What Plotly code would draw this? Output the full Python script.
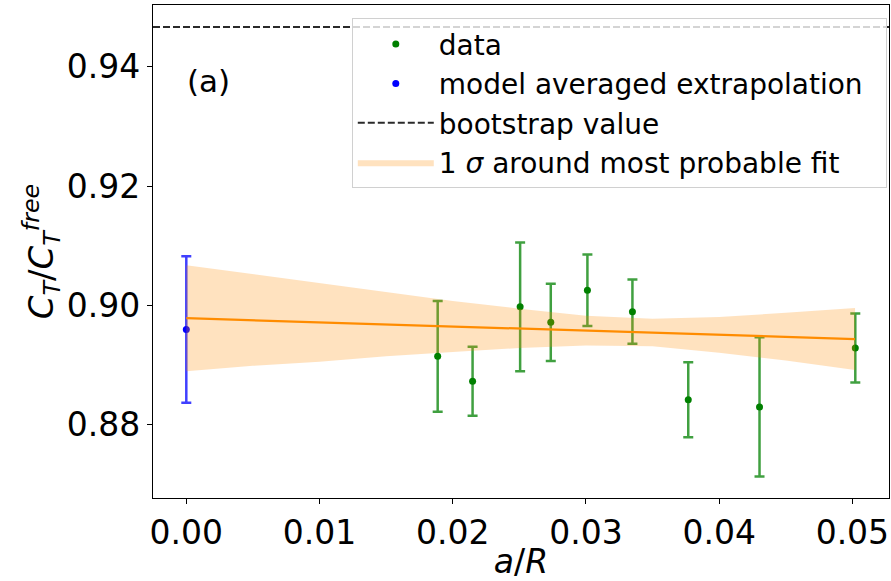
import plotly.graph_objects as go

# Lattice data: C_T / C_T^free against a/R
a_over_r = [0.01887, 0.02149, 0.02506, 0.02736, 0.03011, 0.03349, 0.03768, 0.04303, 0.05022]
ct_ratio = [0.8914, 0.8872, 0.8997, 0.8971, 0.9025, 0.8989, 0.8841, 0.8829, 0.8928]
ct_err = [0.0093, 0.0058, 0.0108, 0.0065, 0.0060, 0.0054, 0.0063, 0.0117, 0.0058]

# Continuum extrapolation (model averaged)
extrap_x = [0.0]
extrap_y = [0.8959]
extrap_err = [0.0123]

# Bootstrap reference value
bootstrap_value = 0.9467

# Most probable linear fit and its 1 sigma band
fit_x = [0.0, 0.0502]
fit_y = [0.8978, 0.8943]
band_x = [0.0, 0.005, 0.01, 0.015, 0.02, 0.025, 0.03, 0.035, 0.04, 0.045, 0.0502]
band_upper = [0.9067, 0.9052, 0.9037, 0.9022, 0.9007, 0.8994, 0.8982, 0.8977, 0.8980, 0.8987, 0.8995]
band_lower = [0.8889, 0.8898, 0.8905, 0.8914, 0.8921, 0.8928, 0.8932, 0.8931, 0.8920, 0.8907, 0.8891]

x_ticks = [0.00, 0.01, 0.02, 0.03, 0.04, 0.05]
y_ticks = [0.88, 0.90, 0.92, 0.94]

FONT = "DejaVu Sans"
GREEN = "#008000"
BLUE = "#0000ff"
ORANGE = "#ff8c00"
PAD = "&nbsp;&nbsp;"

fig = go.Figure()

fig.add_trace(go.Scatter(
    x=a_over_r, y=ct_ratio, mode="markers", name="data", legendrank=1,
    marker=dict(color=GREEN, size=7),
    error_y=dict(type="data", array=ct_err, color="rgba(0,128,0,0.75)",
                 thickness=2.5, width=5),
))

fig.add_trace(go.Scatter(
    x=extrap_x, y=extrap_y, mode="markers",
    name="model averaged extrapolation" + PAD, legendrank=2,
    marker=dict(color=BLUE, size=7),
    error_y=dict(type="data", array=extrap_err, color="rgba(0,0,255,0.75)",
                 thickness=2.5, width=5),
))

fig.add_trace(go.Scatter(
    x=band_x + band_x[::-1], y=band_upper + band_lower[::-1],
    mode="lines", fill="toself", fillcolor="rgba(255,140,0,0.25)",
    line=dict(width=0), name="1 <i>σ</i> around most probable fit", legendrank=4,
))

fig.add_trace(go.Scatter(
    x=fit_x, y=fit_y, mode="lines", showlegend=False,
    line=dict(color=ORANGE, width=2.2),
))

fig.add_shape(
    type="line", xref="x domain", yref="y", x0=0, x1=1,
    y0=bootstrap_value, y1=bootstrap_value,
    line=dict(color="#2a2a2a", width=2, dash="7px,3px"),
    showlegend=True, name="bootstrap value", legendrank=3,
)

fig.add_annotation(
    text="(a)", xref="x", yref="y", x=-0.0001, y=0.9376, showarrow=False,
    xanchor="left", yanchor="middle",
    font=dict(family=FONT, size=31, color="black"),
)

axis_common = dict(
    showline=True, linecolor="black", linewidth=1.3, mirror=True,
    ticks="outside", ticklen=5, tickwidth=1.2, tickcolor="black",
    showgrid=False, zeroline=False,
    tickfont=dict(family=FONT, size=33, color="black"),
    tickformat=".2f",
)

fig.update_xaxes(
    range=[-0.0025, 0.05275], tickvals=x_ticks, **axis_common,
    title=dict(text="<i>a</i>/<i>R</i>", font=dict(family=FONT, size=33, color="black"),
               standoff=2),
)
fig.update_yaxes(
    range=[0.8676, 0.9504], tickvals=y_ticks, **axis_common,
    title=dict(text="<i>C<sub>T</sub></i>/<i>C<sub>T</sub><sup>free</sup></i>",
               font=dict(family=FONT, size=34, color="black"), standoff=2),
)

fig.update_layout(
    width=891, height=581,
    margin=dict(l=153, r=2, t=5, b=83),
    paper_bgcolor="white", plot_bgcolor="white",
    font=dict(family=FONT, color="black"),
    legend=dict(
        x=0.997, y=0.973, xanchor="right", yanchor="top",
        bgcolor="rgba(255,255,255,0.8)", bordercolor="#d0d0d0", borderwidth=1,
        font=dict(family=FONT, size=28, color="black"),
        itemwidth=76, tracegroupgap=0,
    ),
)

fig.write_html("out.html")
